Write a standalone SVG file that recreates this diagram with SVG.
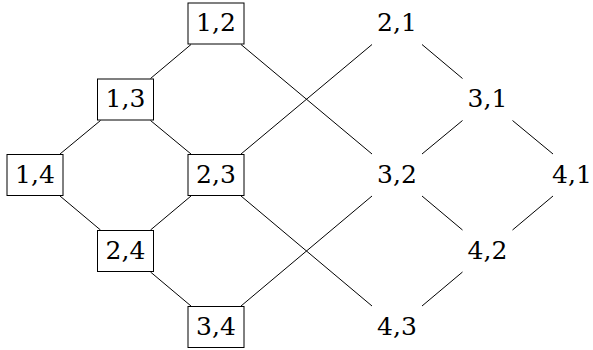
<svg xmlns="http://www.w3.org/2000/svg" width="593" height="350" viewBox="0 0 593 350">
  <style>
    .box { fill: #ffffff; stroke: #000000; stroke-width: 1; }
    .lbl { font-family: "DejaVu Serif", "Liberation Serif", serif; font-size: 25px; fill: #000000; text-anchor: middle; }
    .edge { stroke: #000000; stroke-width: 1; fill: none; }
  </style>
  <rect width="593" height="350" fill="#ffffff"/>

  <!-- connectors -->
  <g id="edges" class="edge">
    <line x1="191" y1="44.5" x2="150.5" y2="78.5"/>
    <line x1="100.5" y1="120.5" x2="60" y2="154"/>
    <line x1="150.5" y1="120.5" x2="191" y2="154"/>
    <line x1="60" y1="196" x2="100.5" y2="230"/>
    <line x1="191" y1="196" x2="150.5" y2="230"/>
    <line x1="150.5" y1="272" x2="191" y2="306"/>
    <line x1="241" y1="44.5" x2="372" y2="154"/>
    <line x1="241" y1="154" x2="372" y2="44.5"/>
    <line x1="241" y1="196" x2="372" y2="306"/>
    <line x1="241" y1="306" x2="372" y2="196"/>
    <line x1="422" y1="44.5" x2="462.5" y2="78.5"/>
    <line x1="462.5" y1="120.5" x2="422" y2="154"/>
    <line x1="512.5" y1="120.5" x2="553" y2="154"/>
    <line x1="422" y1="196" x2="462.5" y2="230"/>
    <line x1="553" y1="196" x2="512.5" y2="230"/>
    <line x1="462.5" y1="272" x2="422" y2="306"/>
  </g>

  <!-- boxed nodes -->
  <g id="n12"><rect class="box" x="188" y="3" width="56" height="41"/><text class="lbl" x="216" y="31">1,2</text></g>
  <g id="n13"><rect class="box" x="97.5" y="79" width="56" height="41"/><text class="lbl" x="125.5" y="107">1,3</text></g>
  <g id="n14"><rect class="box" x="7" y="154.5" width="56" height="41"/><text class="lbl" x="35" y="182.5">1,4</text></g>
  <g id="n23"><rect class="box" x="188" y="154.5" width="56" height="41"/><text class="lbl" x="216" y="182.5">2,3</text></g>
  <g id="n24"><rect class="box" x="97.5" y="230.5" width="56" height="41"/><text class="lbl" x="125.5" y="258.5">2,4</text></g>
  <g id="n34"><rect class="box" x="188" y="306.5" width="56" height="41"/><text class="lbl" x="216" y="334.5">3,4</text></g>

  <!-- plain nodes -->
  <g id="n21"><text class="lbl" x="397" y="31">2,1</text></g>
  <g id="n31"><text class="lbl" x="487.5" y="107">3,1</text></g>
  <g id="n32"><text class="lbl" x="397" y="182.5">3,2</text></g>
  <g id="n41"><text class="lbl" x="572" y="182.5">4,1</text></g>
  <g id="n42"><text class="lbl" x="487.5" y="258.5">4,2</text></g>
  <g id="n43"><text class="lbl" x="397" y="334.5">4,3</text></g>
</svg>
